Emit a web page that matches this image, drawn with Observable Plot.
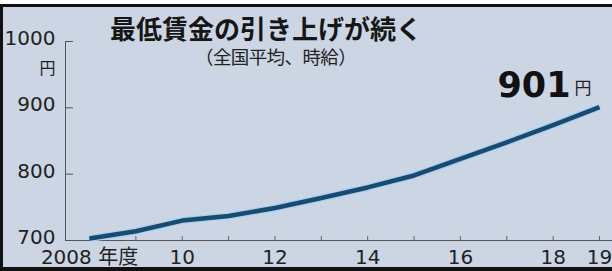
<!DOCTYPE html>
<html><head><meta charset="utf-8">
<script src="https://cdn.jsdelivr.net/npm/d3@7"></script>
<script src="https://cdn.jsdelivr.net/npm/@observablehq/plot@0.6"></script>
<style>
html,body{margin:0;padding:0;background:#fff;}
#wrap{position:relative;width:612px;height:271px;overflow:hidden;}
#panel{position:absolute;left:0;top:4px;width:612px;height:267px;box-sizing:border-box;background:#cbd5e3;border-top:3px solid #111;border-left:3px solid #111;border-bottom:4px solid #111;}
#title{position:absolute;left:110px;top:15px;font-family:"Noto Sans CJK JP",sans-serif;font-weight:700;font-size:26px;color:#161616;line-height:1;white-space:nowrap;}
#subtitle{position:absolute;left:195px;top:47px;font-family:"Noto Sans CJK JP",sans-serif;font-weight:400;font-size:18.5px;color:#222;line-height:1;white-space:nowrap;letter-spacing:-0.6px;}
#chart{position:absolute;left:0;top:0;}
</style></head>
<body>
<div id="wrap">
  <div id="panel"></div>
  <div id="chart"></div>
  <div id="title">最低賃金の引き上げが続く</div>
  <div id="subtitle">（全国平均、時給）</div>
</div>
<script>
const years = [2008, 2009, 2010, 2011, 2012, 2013, 2014, 2015, 2016, 2017, 2018, 2019];
const wages = [703, 714, 730, 737, 749, 764, 780, 798, 823, 848, 874, 901];
const labelYears = [2008, 2010, 2012, 2014, 2016, 2018, 2019];
const yTicks = [700, 800, 900, 1000];
const yUnit = "円";
const lastLabel = "901";

const data = years.map((y, i) => ({year: y, wage: wages[i]}));
const last = data[data.length - 1];
const numFont = "'DejaVu Sans','Noto Sans CJK JP',sans-serif";

const chart = Plot.plot({
  width: 612,
  height: 271,
  marginLeft: 65,
  marginRight: 0,
  marginTop: 41,
  marginBottom: 31,
  insetLeft: 24,
  insetRight: 13,
  x: {domain: [2008, 2019]},
  y: {domain: [700, 1000]},
  style: {background: "transparent", fontFamily: numFont, color: "#222", overflow: "visible"},
  marks: [
    Plot.frame({anchor: "left", stroke: "#555"}),
    Plot.ruleY([700], {stroke: "#555"}),
    Plot.axisX(years, {tickSize: 4, dy: -4, fill: "none", stroke: "#666", label: null}),
    Plot.axisX(labelYears, {tickSize: 0, tickPadding: 9, fontSize: 20, fill: "#222", label: null,
      tickFormat: d => d === 2008 ? "2008 年度" : String(d).slice(2)}),
    Plot.axisY(yTicks.slice(1), {tickSize: 8, dx: 8, fill: "none", stroke: "#555", label: null}),
    Plot.axisY(yTicks, {tickSize: 0, tickPadding: 10, fontSize: 20, fill: "#222", label: null, dy: -3,
      tickFormat: d => String(d)}),
    Plot.text([yUnit], {frameAnchor: "top-left", text: d => d, dx: -26, dy: 21, fontSize: 16, fill: "#222", fontFamily: "'Noto Sans CJK JP'"}),
    Plot.line(data, {x: "year", y: "wage", stroke: "#a8d2ef", strokeWidth: 7, strokeLinecap: "butt"}),
    Plot.line(data, {x: "year", y: "wage", stroke: "#194a72", strokeWidth: 4.5, strokeLinecap: "butt"}),
    Plot.text([last], {x: "year", y: "wage", text: () => lastLabel, textAnchor: "end", dx: -29, dy: -21, fontSize: 35, fontWeight: "bold", fill: "#111", style: {letterSpacing: "1.5px"}}),
    Plot.text([last], {x: "year", y: "wage", text: () => yUnit, textAnchor: "start", dx: -25, dy: -19, fontSize: 17, fill: "#222", fontFamily: "'Noto Sans CJK JP'"})
  ]
});
document.getElementById("chart").appendChild(chart);
</script>
</body></html>
